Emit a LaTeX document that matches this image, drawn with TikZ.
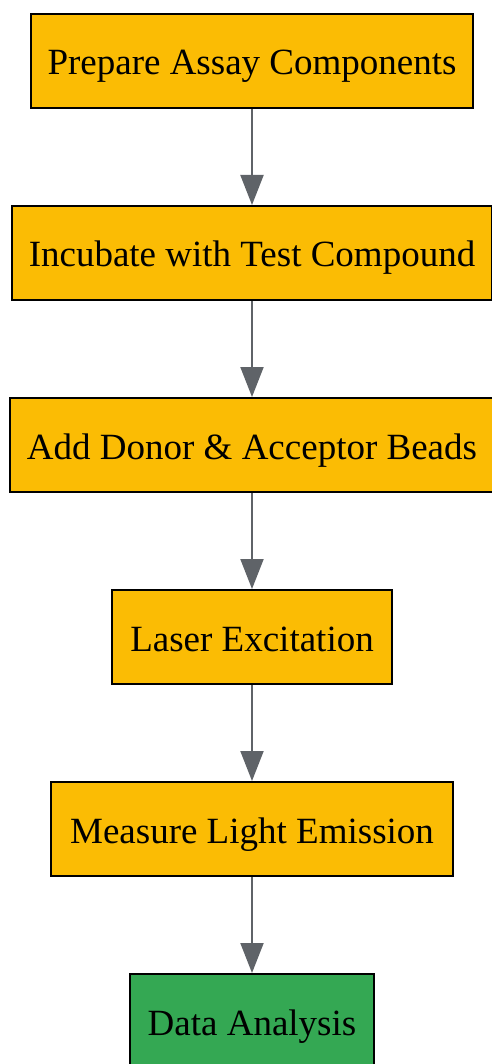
\documentclass[tikz,border=0pt]{standalone}
\usepackage{fontspec}
\setmainfont{Liberation Serif}
\usetikzlibrary{arrows.meta}
\definecolor{boxyellow}{HTML}{FBBC04}
\definecolor{boxgreen}{HTML}{34A853}
\definecolor{arrowgray}{HTML}{5F6368}
\tikzset{
  stepbox/.style={draw=black, line width=2pt, fill=boxyellow, inner sep=0pt,
    minimum height=94pt, text height=30pt, text depth=2pt,
    font=\fontsize{37}{44}\selectfont, text=black},
  endbox/.style={stepbox, fill=boxgreen},
  flow/.style={draw=arrowgray, line width=2pt, -{Triangle[length=30pt,width=23pt]}, color=arrowgray}
}
\begin{document}
\begin{tikzpicture}[x=1pt,y=-1pt]
\useasboundingbox (0,0) rectangle (491,1064);
\node[stepbox, minimum width=442pt] (a) at (252,61) {Prepare Assay Components};
\node[stepbox, minimum width=480pt] (b) at (252,253) {Incubate with Test Compound};
\node[stepbox, minimum width=484pt] (c) at (252,445) {Add Donor \& Acceptor Beads};
\node[stepbox, minimum width=280pt] (d) at (252,637) {Laser Excitation};
\node[stepbox, minimum width=402pt] (e) at (252,829) {Measure Light Emission};
\node[endbox, minimum width=244pt] (f) at (252,1021) {Data Analysis};
\draw[flow] (a) -- (b);
\draw[flow] (b) -- (c);
\draw[flow] (c) -- (d);
\draw[flow] (d) -- (e);
\draw[flow] (e) -- (f);
\end{tikzpicture}
\end{document}
